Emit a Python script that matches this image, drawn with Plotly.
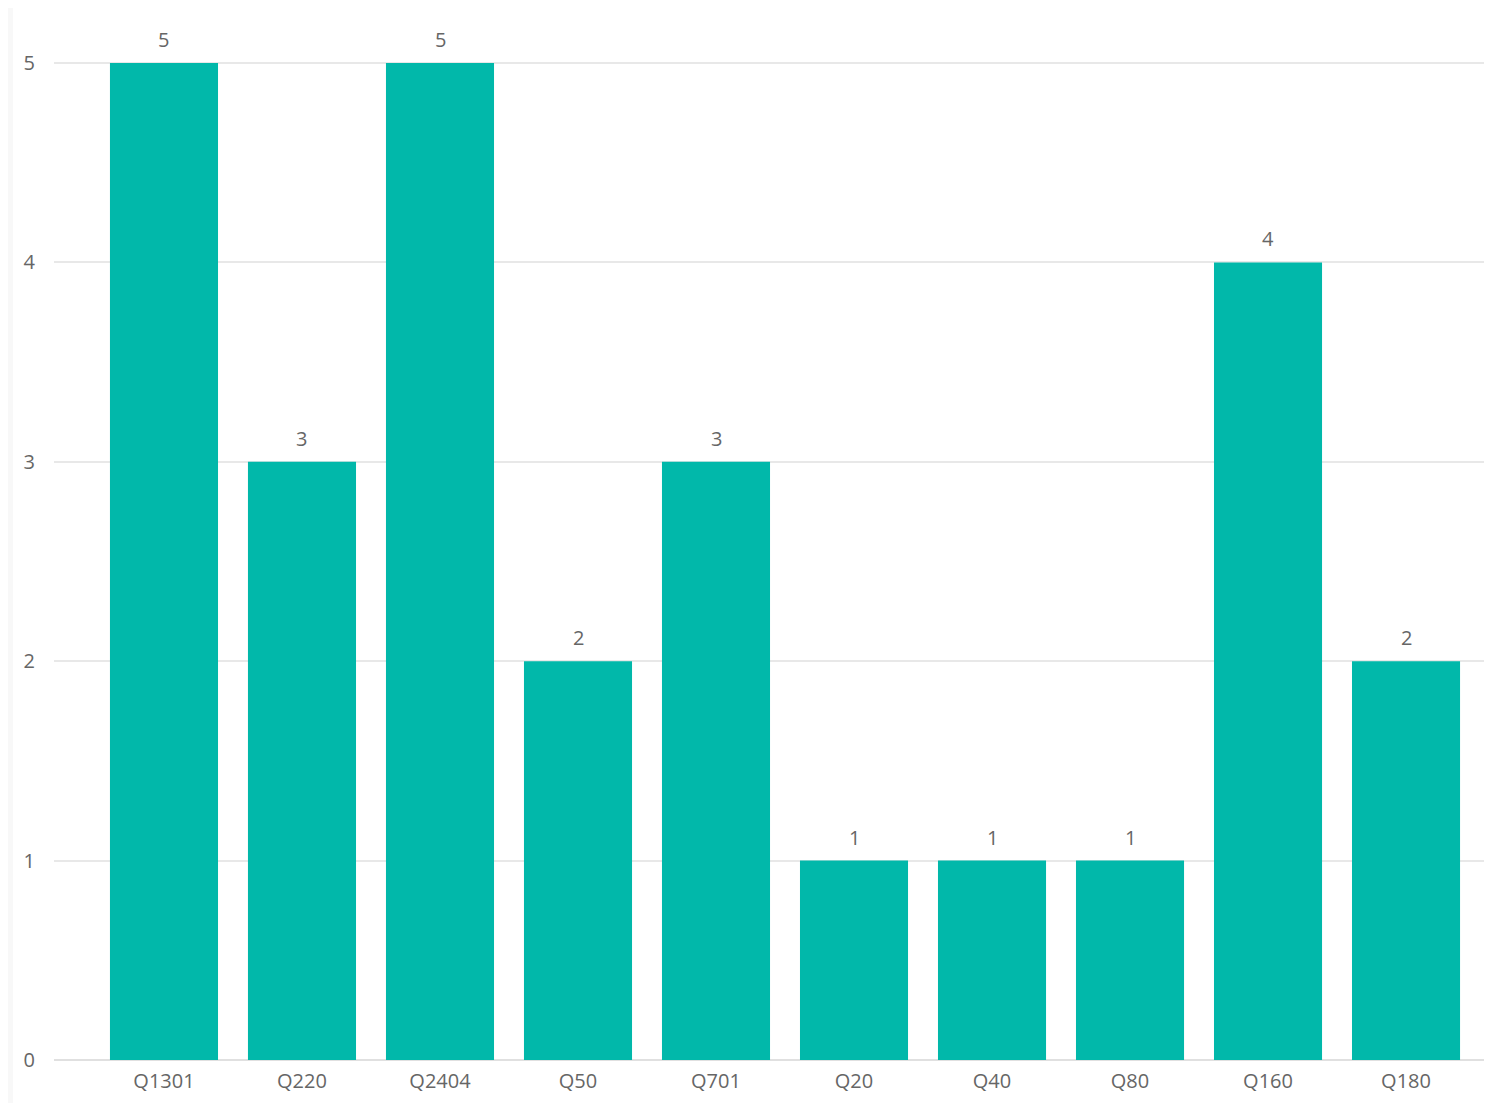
import plotly.graph_objects as go

categories = ["Q1301", "Q220", "Q2404", "Q50", "Q701", "Q20", "Q40", "Q80", "Q160", "Q180"]
values = [5, 3, 5, 2, 3, 1, 1, 1, 4, 2]
y_ticks = [0, 1, 2, 3, 4, 5]

BAR = "#01B8AA"
TXT = "#666666"
FONT = "Open Sans, Segoe UI, DejaVu Sans, sans-serif"

fig = go.Figure()
fig.add_trace(go.Bar(
    x=categories, y=values,
    marker=dict(color=BAR, line=dict(width=0)),
    cliponaxis=False,
    hoverinfo="x+y",
))

for c, v in zip(categories, values):
    fig.add_annotation(x=c, y=v, text=str(v), showarrow=False, yanchor="bottom",
                       yshift=8, font=dict(family=FONT, size=20, color=TXT))

fig.update_layout(
    width=1492, height=1103,
    margin=dict(l=46, r=0, t=2, b=51),
    paper_bgcolor="white", plot_bgcolor="white",
    bargap=0.217,
    showlegend=False,
    font=dict(family=FONT, color=TXT),
    shapes=[dict(type="rect", xref="paper", yref="paper", x0=-46/1446, x1=-41/1446,
                 y0=-51/1050, y1=1 + 2/1050, fillcolor="#f8f8f8", line=dict(width=0), layer="below")],
)
fig.update_xaxes(
    type="category", range=[-0.797, 9.681],
    showgrid=False, showline=False, zeroline=False,
    tickfont=dict(family=FONT, size=20, color=TXT),
    ticks="", ticklabelstandoff=7,
)
fig.update_yaxes(
    range=[0, 5.266], tickvals=y_ticks,
    showgrid=True, gridcolor="#e8e8e8", gridwidth=1.5,
    zeroline=True, zerolinecolor="#e0e0e0", zerolinewidth=1.5,
    showline=False,
    tickfont=dict(family=FONT, size=20, color=TXT),
    ticks="", ticklabelstandoff=18,
)

fig.write_html("out.html")
